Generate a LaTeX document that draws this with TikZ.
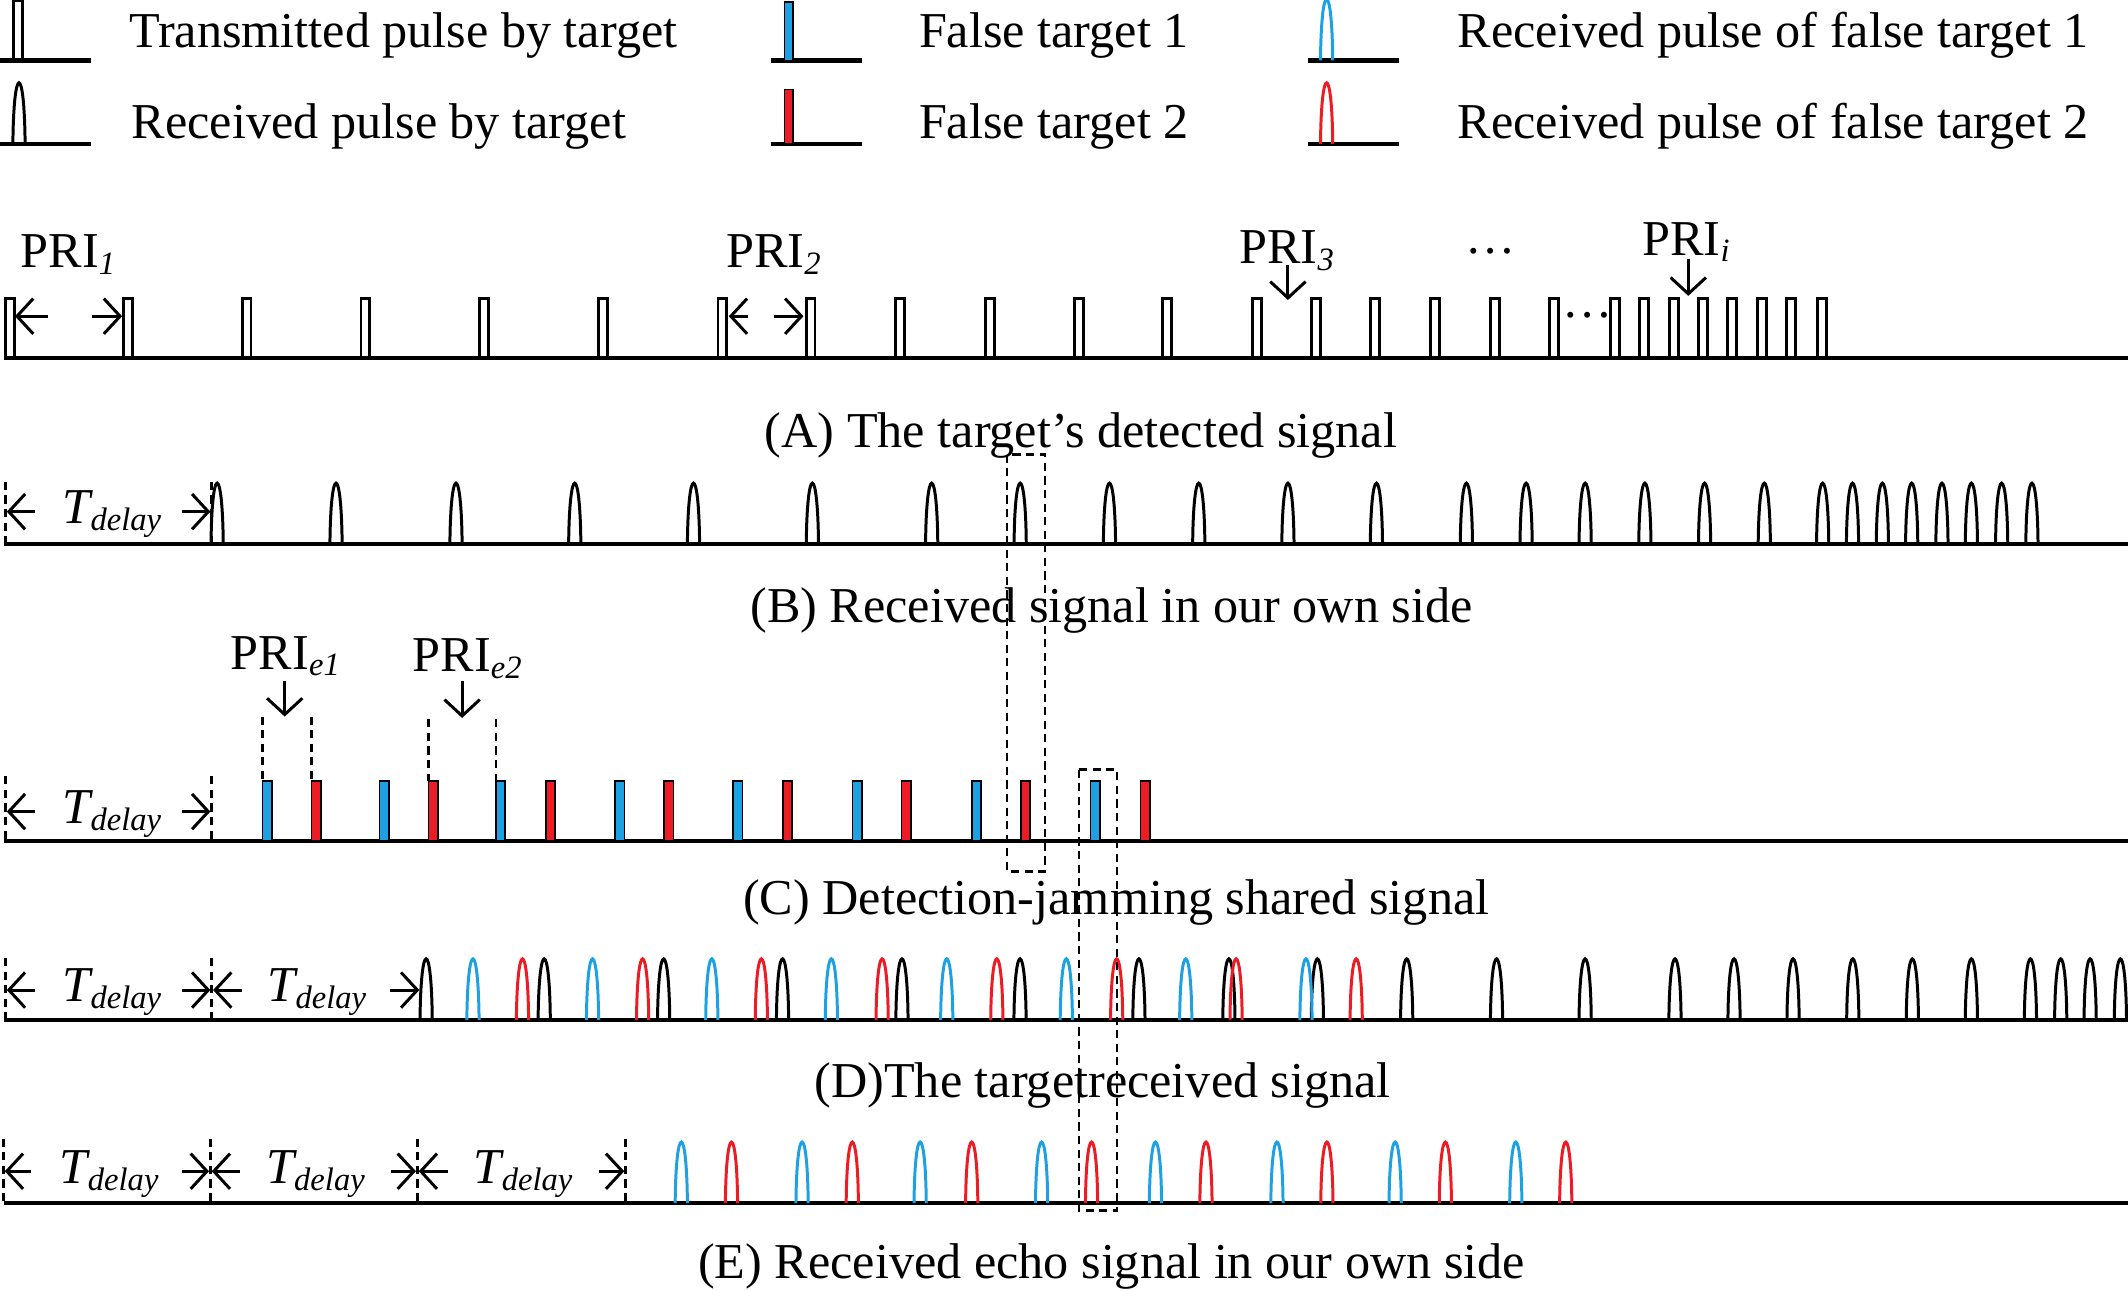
\documentclass[tikz,border=0pt]{standalone}
\usepackage{fontspec}
\setmainfont{Liberation Serif}
\usetikzlibrary{arrows.meta}
\definecolor{cblue}{RGB}{29,161,226}
\definecolor{cred}{RGB}{237,28,36}
\newcommand\Tdl{{\itshape T\raisebox{-5bp}{\fontsize{24bp}{24bp}\selectfont delay}}}
\newcommand\PRIsub[1]{PRI\raisebox{-5bp}{\fontsize{24bp}{24bp}\selectfont\itshape #1}}
\tikzset{
  axisln/.style={line width=3.2bp},
  tpl/.style={line width=2.1bp},
  bmp/.style={line width=2.2bp},
  dln/.style={line width=1.8bp, dash pattern=on 6bp off 4bp},
  arr/.style={line width=2.2bp,-{Straight Barb[length=12bp,width=26bp]}},
  txt/.style={inner sep=0pt, anchor=base west, font=\fontsize{37bp}{40bp}\selectfont},
  captxt/.style={inner sep=0pt, anchor=base, font=\fontsize{37bp}{40bp}\selectfont},
  bumpp/.pic={\draw[bmp] (-4.5,0) .. controls (-4,-60) and (4,-60) .. (4.5,0);},
  tplp/.pic={\draw[tpl] (0,0) -- (0,-44) -- (6.5,-44) -- (6.5,0);},
  bluebar/.style={fill=cblue, draw=black, line width=1.3bp},
  redbar/.style={fill=cred, draw=black, line width=1.3bp}
}
\begin{document}
\begin{tikzpicture}[x=1bp,y=-1bp]
\useasboundingbox (0,0) rectangle (1568,951);

% ---------- legend ----------
\draw[axisln] (0,44.5) -- (67,44.5);
\draw[axisln] (0,106) -- (67,106);
\pic at (9.8,44.5) {tplp};
\pic at (14,106) {bumpp};
\node[txt] (l1) at (95,35) {Transmitted pulse by target};
\node[txt] (l2) at (97,102) {Received pulse by target};

\draw[axisln] (568,44.5) -- (635,44.5);
\draw[axisln] (568,106) -- (635,106);
\filldraw[bluebar] (578,44.5) rectangle (584.5,1.5);
\filldraw[redbar] (578,106) rectangle (584.5,66);
\node[txt] (l3) at (677,35) {False target 1};
\node[txt] (l4) at (677,102) {False target 2};

\draw[axisln] (964,44.5) -- (1031,44.5);
\draw[axisln] (964,106) -- (1031,106);
\pic[color=cblue] at (977.5,44.5) {bumpp};
\pic[color=cred] at (977.5,106) {bumpp};
\node[txt] (l5) at (1074,35) {Received pulse of false target 1};
\node[txt] (l6) at (1074,102) {Received pulse of false target 2};

% ---------- (A) ----------
\draw[axisln] (3,264) -- (1568,264);
\foreach \x in {4,91,178.5,266,353.5,441,529,594,660,726,791.6,856.6,923.1,966.6,1010.1,1054.1,1098.1,1141.6,1186.6,1208.1,1230.1,1251.6,1273.1,1295.1,1316.6,1339.1}
  \pic at (\x,264) {tplp};
\node[txt] (pri1) at (15,197) {\PRIsub{1}};
\node[txt] (pri2) at (535,197) {\PRIsub{2}};
\node[txt] (pri3) at (913,194) {\PRIsub{3}};
\node[txt] (prii) at (1210,188) {\PRIsub{i}};
\node[captxt] (dots1) at (1098,187) {\ldots};
\node[captxt] (dots2) at (1170,234) {\ldots};
\draw[arr] (35,233) -- (11,233);
\draw[arr] (67.5,233) -- (90,233);
\draw[arr] (551,233) -- (537,233);
\draw[arr] (570,233) -- (592,233);
\draw[arr] (949,195) -- (949,221);
\draw[arr] (1244,191) -- (1244,218);
\node[captxt] (capA) at (796.5,330) {(A) The target’s detected signal};

% ---------- (B) ----------
\draw[axisln] (3,401) -- (1568,401);
\foreach \x in {160,247.6,336,423.5,511,598.6,686.5,751.7,817.5,883.3,949,1014.2,1080.5,1124.5,1168,1212,1256,1300,1343,1365,1387,1408.6,1430.9,1452.6,1474.9,1497.2}
  \pic at (\x,401) {bumpp};
\draw[dln] (4,355) -- (4,401);
\draw[dln] (156,355) -- (156,401);
\draw[arr] (26,377) -- (5,377);
\draw[arr] (134,377) -- (155,377);
\node[txt] (tdB) at (46,386) {\Tdl};
\node[captxt] (capB) at (819,459) {(B) Received signal in our own side};

% ---------- (C) ----------
\draw[axisln] (3,619.5) -- (1568,619.5);
\foreach \x in {193.4,279.7,365.4,453.4,540.3,628.2,716.2,803.6}
  \filldraw[bluebar] (\x,619.5) rectangle ++(6.8,-44);
\foreach \x in {229.5,315.8,402.1,489.5,576.9,664.3,752.3,840.3}
  \filldraw[redbar] (\x,619.5) rectangle ++(6.8,-44);
\draw[dln] (4,572) -- (4,619.5);
\draw[dln] (156,572) -- (156,619.5);
\draw[arr] (26,598) -- (5,598);
\draw[arr] (134,598) -- (155,598);
\node[txt] (tdC) at (46,607) {\Tdl};
\draw[dln] (193.4,528) -- (193.4,575.5);
\draw[dln] (229.5,528) -- (229.5,575.5);
\draw[dln] (315.8,530) -- (315.8,575.5);
\draw[dln] (365.4,530) -- (365.4,575.5);
\draw[arr] (209.8,502) -- (209.8,528);
\draw[arr] (340.5,502) -- (340.5,529);
\node[txt] (prie1) at (170,493) {\PRIsub{e1}};
\node[txt] (prie2) at (304,495) {\PRIsub{e2}};
\node[captxt] (capC) at (822.5,674) {(C) Detection-jamming shared signal};

% ---------- (D) ----------
\draw[axisln] (3,751.5) -- (1568,751.5);
\foreach \x in {314,401,489,576.6,664.6,751.6,839.2,905.5,970.7,1036.5,1102.7,1168,1234.2,1277.7,1321.2,1365.2,1409.1,1452.6,1496.1,1518.4,1540.1,1562.4}
  \pic at (\x,751.5) {bumpp};
\foreach \x in {348.5,436.6,524.5,612.6,697.6,785.7,873.7,962.3}
  \pic[color=cblue] at (\x,751.5) {bumpp};
\foreach \x in {385,473.5,561,650,734.5,822.8,910.8,999.3}
  \pic[color=cred] at (\x,751.5) {bumpp};
\draw[dln] (4,706) -- (4,751.5);
\draw[dln] (156,706) -- (156,751.5);
\draw[arr] (26,729.5) -- (5,729.5);
\draw[arr] (134,729.5) -- (155,729.5);
\draw[arr] (178,729.5) -- (157,729.5);
\draw[arr] (287,729.5) -- (309,729.5);
\node[txt] (tdD1) at (46,738) {\Tdl};
\node[txt] (tdD2) at (197,738) {\Tdl};
\node[captxt] (capD) at (812.5,809) {(D)The targetreceived signal};

% ---------- (E) ----------
\draw[axisln] (3,886.5) -- (1568,886.5);
\foreach \x in {502,591,678,767.5,851.4,940.9,1028,1116.9}
  \pic[color=cblue] at (\x,886.5) {bumpp};
\foreach \x in {539,628,716,804.3,888.6,977.7,1065,1153.7}
  \pic[color=cred] at (\x,886.5) {bumpp};
\draw[dln] (2.5,839) -- (2.5,886.5);
\draw[dln] (155,839) -- (155,886.5);
\draw[dln] (307.5,839) -- (307.5,886.5);
\draw[dln] (461,839) -- (461,886.5);
\draw[arr] (23,863) -- (3.5,863);
\draw[arr] (134,863) -- (154,863);
\draw[arr] (177,863) -- (156,863);
\draw[arr] (288,863) -- (306.5,863);
\draw[arr] (330,863) -- (308.5,863);
\draw[arr] (441,863) -- (460,863);
\node[txt] (tdE1) at (44,872) {\Tdl};
\node[txt] (tdE2) at (196,872) {\Tdl};
\node[txt] (tdE3) at (349,872) {\Tdl};
\node[captxt] (capE) at (819,942) {(E) Received echo signal in our own side};

% ---------- dashed boxes ----------
\draw[dln] (742,335) rectangle (770,642);
\draw[dln] (795,567) rectangle (823,892);
\end{tikzpicture}
\end{document}
